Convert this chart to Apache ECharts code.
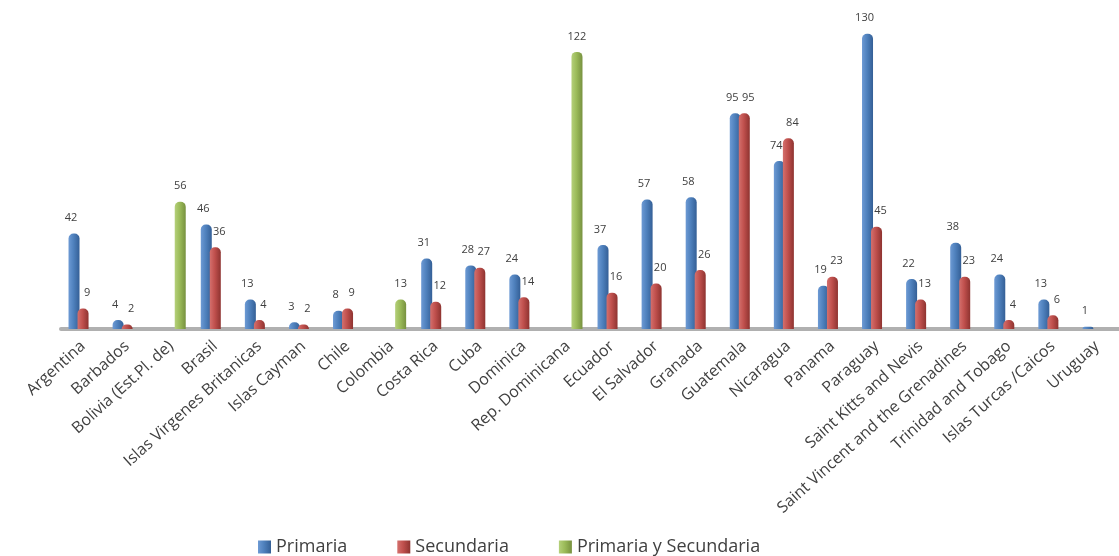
<!DOCTYPE html>
<html>
<head>
<meta charset="utf-8">
<script src="https://cdn.jsdelivr.net/npm/echarts@6/dist/echarts.min.js"></script>
<style>
  html, body { margin: 0; padding: 0; background: #ffffff; }
  #chart { width: 1119px; height: 556px; }
</style>
</head>
<body>
<div id="chart"></div>
<script>
// Countries on the category axis
const countries = [
  'Argentina', 'Barbados', 'Bolivia (Est.Pl. de)', 'Brasil', 'Islas Virgenes Britanicas',
  'Islas Cayman', 'Chile', 'Colombia', 'Costa Rica', 'Cuba', 'Dominica', 'Rep. Dominicana',
  'Ecuador', 'El Salvador', 'Granada', 'Guatemala', 'Nicaragua', 'Panama', 'Paraguay',
  'Saint Kitts and Nevis', 'Saint Vincent and the Grenadines', 'Trinidad and Tobago',
  'Islas Turcas /Caicos', 'Uruguay'
];

// Values per level (null = no bar for that country)
const primaria = [42, 4, null, 46, 13, 3, 8, null, 31, 28, 24, null, 37, 57, 58, 95, 74, 19, 130, 22, 38, 24, 13, 1];
const secundaria = [9, 2, null, 36, 4, 2, 9, null, 12, 27, 14, null, 16, 20, 26, 95, 84, 23, 45, 13, 23, 4, 6, null];
const primariaYSecundaria = [null, null, 56, null, null, null, null, 13, null, null, null, 122, null, null, null, null, null, null, null, null, null, null, null, null];

const seriesNames = ['Primaria', 'Secundaria', 'Primaria y Secundaria'];

const FONT = '"Open Sans", Lato, sans-serif';

// Horizontal shading to give the columns a rounded, cylinder-like look
function shade(light, mid, dark) {
  return new echarts.graphic.LinearGradient(0, 0, 1, 0, [
    { offset: 0, color: light },
    { offset: 0.45, color: mid },
    { offset: 1, color: dark }
  ]);
}

function barSeries(name, data, fill, labelShift) {
  return {
    name: name,
    type: 'bar',
    data: data,
    barWidth: 11,
    barGap: '-18%',
    itemStyle: { color: fill, borderRadius: [5, 5, 0, 0] },
    label: {
      show: true,
      position: 'top',
      distance: 10,
      offset: [labelShift, 0],
      fontFamily: FONT,
      fontSize: 11,
      color: '#404040'
    }
  };
}

const chart = echarts.init(document.getElementById('chart'), null, { renderer: 'canvas' });

chart.setOption({
  backgroundColor: '#ffffff',
  animation: false,
  color: ['#4f81bd', '#c0504d', '#9bbb59'],
  grid: { left: 61, right: 0, top: 11, bottom: 227, containLabel: false },
  legend: {
    data: seriesNames,
    left: 253,
    top: 533,
    itemWidth: 13,
    itemHeight: 13,
    itemGap: 50,
    icon: 'rect',
    textStyle: { fontFamily: FONT, fontSize: 18, color: '#404040' }
  },
  xAxis: {
    type: 'category',
    data: countries,
    axisTick: { show: false },
    axisLine: { show: true, lineStyle: { color: '#b0b0b0', width: 4 } },
    axisLabel: {
      interval: 0,
      rotate: 42,
      margin: 15,
      fontFamily: FONT,
      fontSize: 16,
      color: '#404040'
    }
  },
  yAxis: {
    type: 'value',
    min: 0,
    max: 140,
    show: false,
    splitLine: { show: false }
  },
  series: [
    barSeries(seriesNames[0], primaria, shade('#6d9ad4', '#4f81bd', '#345f96'), -3),
    barSeries(seriesNames[1], secundaria, shade('#d4706d', '#c0504d', '#8e3330'), 4),
    barSeries(seriesNames[2], primariaYSecundaria, shade('#b5d07a', '#9bbb59', '#77913f'), 0)
  ]
});
</script>
</body>
</html>
